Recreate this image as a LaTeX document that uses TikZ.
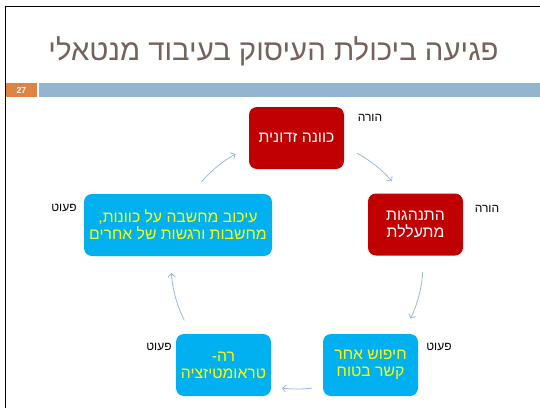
\documentclass[tikz,border=0pt]{standalone}
\usepackage{fontspec}
\setmainfont{Liberation Sans}
\newfontfamily\heb[Script=Hebrew]{Liberation Sans}
\TeXXeTstate=1
\usetikzlibrary{arrows.meta}
\definecolor{titlec}{HTML}{76625B}
\definecolor{orangec}{HTML}{DF8344}
\definecolor{barc}{HTML}{94B5D2}
\definecolor{redc}{HTML}{C00000}
\definecolor{bluec}{HTML}{00B0F0}
\definecolor{yelc}{HTML}{FFFF00}
\definecolor{arrc}{HTML}{9AB7D8}
\tikzset{
  boxbase/.style={rounded corners=6pt, minimum width=71.25pt, minimum height=46.5pt,
    align=center, inner sep=2pt, font=\heb\fontsize{11.8}{12.8}\selectfont},
  redbox/.style={boxbase, fill=redc, text=white},
  bluebox/.style={boxbase, fill=bluec, text=yelc},
  rolelbl/.style={font=\heb\fontsize{9}{10}\selectfont, text=black, inner sep=0pt},
  cyclearr/.style={draw=arrc, line width=0.6pt, -{Straight Barb[length=2.6pt,width=5.5pt]}}
}
\begin{document}
\begin{tikzpicture}[x=0.75pt,y=-0.75pt]
\useasboundingbox (0,0) rectangle (540,408);
% frame
\draw[line width=0.9pt] (5.5,408) -- (5.5,6.5) -- (540,6.5);
% header bars
\fill[orangec] (6,83) rectangle (37,97);
\fill[barc] (39,83) rectangle (540,97);
\node[font=\bfseries\fontsize{6.5}{7}\selectfont, text=white, inner sep=0pt] (num) at (21.5,90) {27};
% title
\node[text=titlec, font=\heb\fontsize{22}{26}\selectfont, anchor=base, inner sep=0pt] (title) at (273.5,60)
  {\beginR פגיעה ביכולת העיסוק בעיבוד מנטאלי\endR};
% nodes
\node[redbox] (n1) at (296.5,138) {\beginR כוונה זדונית\endR};
\node[redbox] (n2) at (415.5,224.5) {\beginR התנהגות\endR\\\beginR מתעללת\endR};
\node[bluebox] (n3) at (370.5,365) {\beginR חיפוש אחר\endR\\\beginR קשר בטוח\endR};
\node[bluebox] (n4) at (223.5,365) {\beginR רה-\endR\\\beginR טראומטיזציה\endR};
\node[bluebox, minimum width=141pt] (n5) at (178,225)
  {\beginR עיכוב מחשבה על כוונות,\endR\\\beginR מחשבות ורגשות של אחרים\endR};
% role labels
\node[rolelbl] (l1) at (370,118) {\beginR הורה\endR};
\node[rolelbl] (l2) at (487,209) {\beginR הורה\endR};
\node[rolelbl] (l3) at (439,347) {\beginR פעוט\endR};
\node[rolelbl] (l4) at (159,347) {\beginR פעוט\endR};
\node[rolelbl] (l5) at (64,208) {\beginR פעוט\endR};
% cycle arrows
\coordinate (c) at (297,264);
\draw[cyclearr] ([shift={(-61.6:126)}]c) arc[start angle=-61.6, end angle=-41.1, radius=126];
\draw[cyclearr] ([shift={(3.7:126)}]c) arc[start angle=3.7, end angle=25.7, radius=126];
\draw[cyclearr] ([shift={(83.1:125)}]c) arc[start angle=83.1, end angle=96.9, radius=125];
\draw[cyclearr] ([shift={(153.4:126)}]c) arc[start angle=153.4, end angle=175.9, radius=126];
\draw[cyclearr] ([shift={(220.8:126)}]c) arc[start angle=220.8, end angle=240.8, radius=126];
\end{tikzpicture}
\end{document}
